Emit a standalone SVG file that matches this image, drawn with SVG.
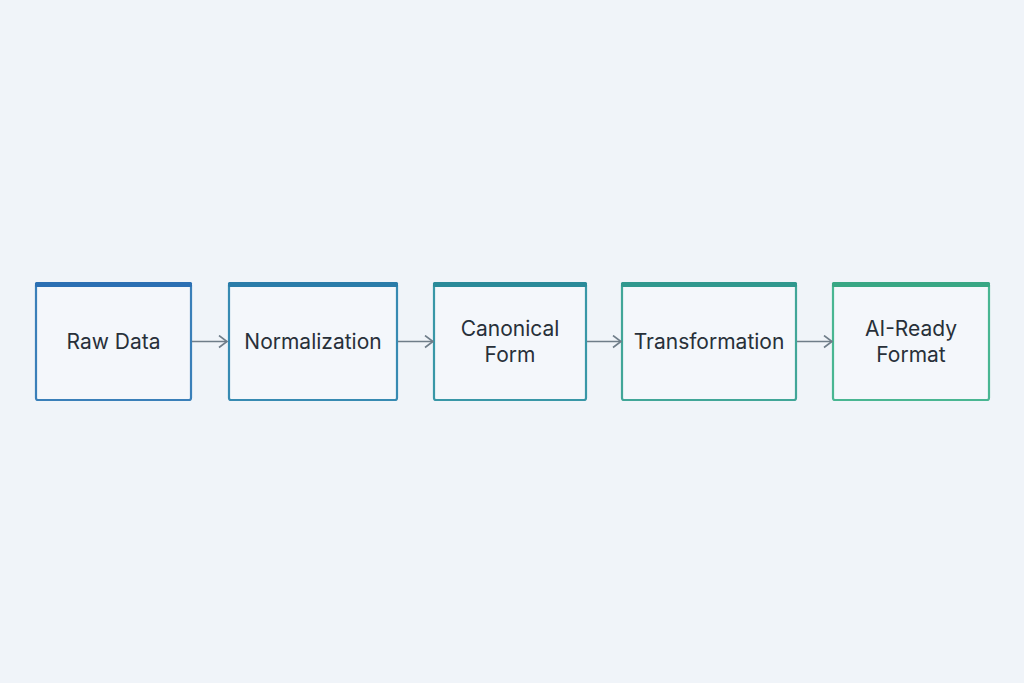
<svg xmlns="http://www.w3.org/2000/svg" width="1024" height="683" viewBox="0 0 1024 683">
<defs>
<style>
.box{fill:#f4f7fb;stroke-width:2.2}
.bar{stroke:none}
.lbl{font-family:"Inter","Liberation Sans",sans-serif;font-size:21px;fill:#283039;text-anchor:middle}
.conn{stroke:#6f7d89;stroke-width:1.6;fill:none}
</style>
<marker id="arr" viewBox="0 0 10 14" refX="9" refY="7" markerWidth="10" markerHeight="14" markerUnits="userSpaceOnUse" orient="auto">
<path d="M1,1 L9,7 L1,13" fill="none" stroke="#6f7d89" stroke-width="1.6"/>
</marker>
</defs>
<rect width="1024" height="683" fill="#f0f4f9"/>
<g id="n1">
<rect class="box" x="36" y="283" width="155" height="117" rx="2" stroke="#3a7fb9"/>
<rect class="bar" x="35" y="282" width="157" height="5" rx="1.5" fill="#2b6fb3"/>
<text class="lbl" x="113.5" y="348.5">Raw Data</text>
</g>
<g id="n2">
<rect class="box" x="229" y="283" width="168" height="117" rx="2" stroke="#378ab2"/>
<rect class="bar" x="228" y="282" width="170" height="5" rx="1.5" fill="#2a7ca9"/>
<text class="lbl" x="313" y="348.5">Normalization</text>
</g>
<g id="n3">
<rect class="box" x="434" y="283" width="152" height="117" rx="2" stroke="#3997a7"/>
<rect class="bar" x="433" y="282" width="154" height="5" rx="1.5" fill="#2a8a99"/>
<text class="lbl" x="510" y="336">Canonical</text>
<text class="lbl" x="510" y="362">Form</text>
</g>
<g id="n4">
<rect class="box" x="622" y="283" width="174" height="117" rx="2" stroke="#41a698"/>
<rect class="bar" x="621" y="282" width="176" height="5" rx="1.5" fill="#30988e"/>
<text class="lbl" x="709" y="348.5">Transformation</text>
</g>
<g id="n5">
<rect class="box" x="833" y="283" width="156" height="117" rx="2" stroke="#49b692"/>
<rect class="bar" x="832" y="282" width="158" height="5" rx="1.5" fill="#38a784"/>
<text class="lbl" x="911" y="336">AI-Ready</text>
<text class="lbl" x="911" y="362">Format</text>
</g>
<g id="connectors">
<line class="conn" x1="192" y1="341.5" x2="227" y2="341.5" marker-end="url(#arr)"/>
<line class="conn" x1="398" y1="341.5" x2="433" y2="341.5" marker-end="url(#arr)"/>
<line class="conn" x1="587" y1="341.5" x2="621" y2="341.5" marker-end="url(#arr)"/>
<line class="conn" x1="797" y1="341.5" x2="832" y2="341.5" marker-end="url(#arr)"/>
</g>
</svg>
